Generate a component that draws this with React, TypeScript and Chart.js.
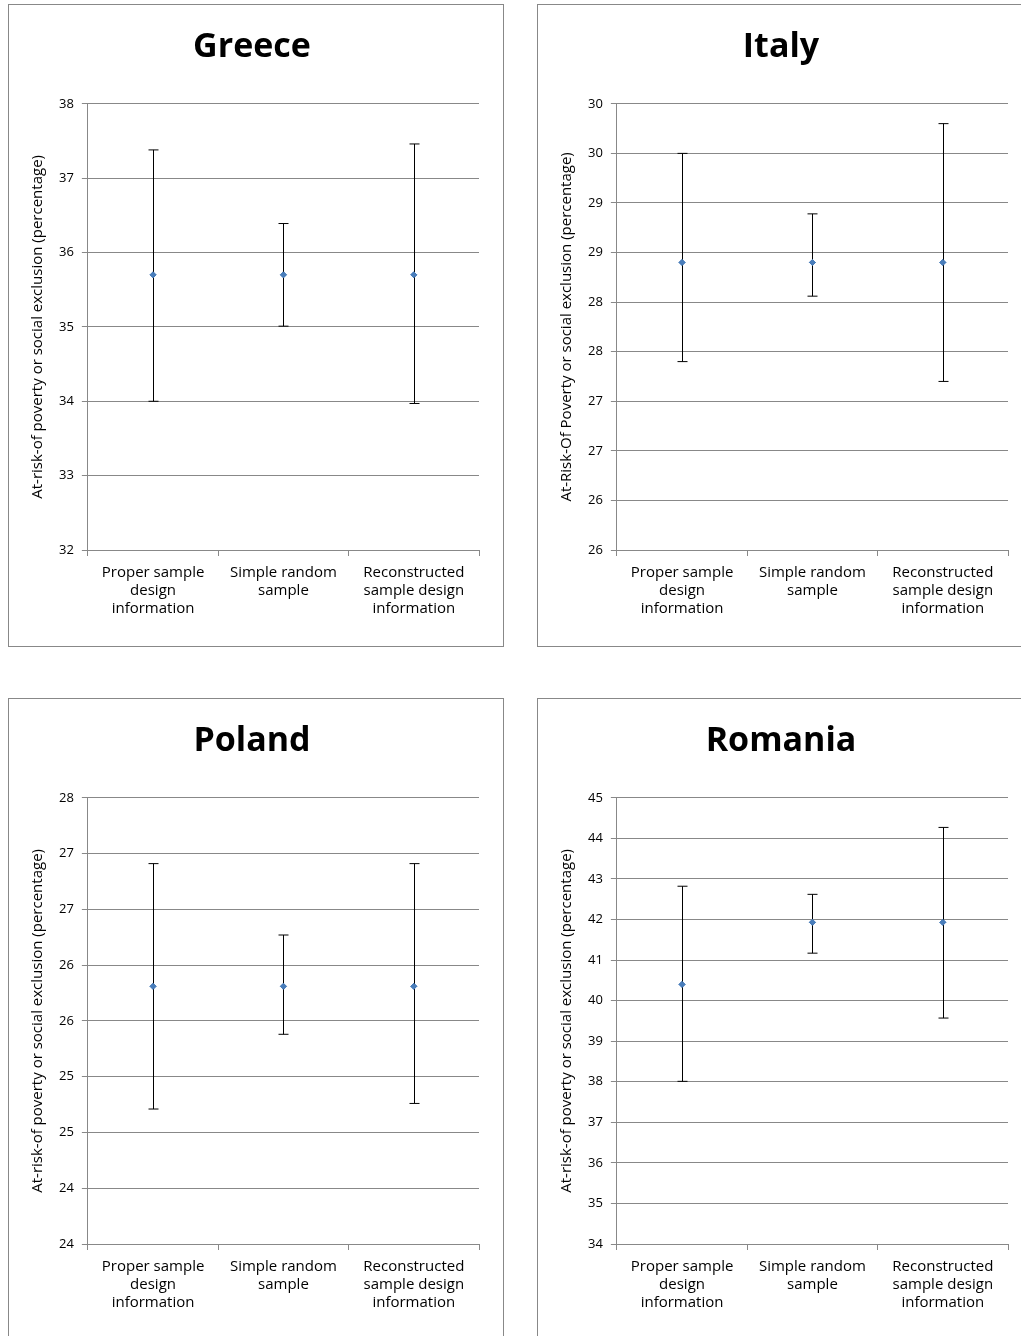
import { useEffect, useRef } from "react"
import { Chart, registerables } from "chart.js"

Chart.register(...registerables)

const categories = [
  ["Proper sample", "design", "information"],
  ["Simple random", "sample"],
  ["Reconstructed", "sample design", "information"],
]

const greeceValues = [35.7, 35.7, 35.7]
const greeceLow = [34.0, 35.01, 33.97]
const greeceHigh = [37.38, 36.39, 37.46]

const italyValues = [28.7, 28.7, 28.7]
const italyLow = [27.7, 28.36, 27.5]
const italyHigh = [29.8, 29.19, 30.1]

const polandValues = [26.11, 26.11, 26.11]
const polandLow = [25.01, 25.68, 25.06]
const polandHigh = [27.21, 26.57, 27.21]

const romaniaValues = [40.4, 41.93, 41.93]
const romaniaLow = [38.01, 41.17, 39.57]
const romaniaHigh = [42.82, 42.62, 44.27]

interface PanelProps {
  title: string
  yLabel: string
  values: number[]
  low: number[]
  high: number[]
  min: number
  max: number
  step: number
  left: number
  top: number
}

const font = "'Open Sans', 'DejaVu Sans', sans-serif"

function Panel({ title, yLabel, values, low, high, min, max, step, left, top }: PanelProps) {
  const ref = useRef<HTMLCanvasElement>(null)

  useEffect(() => {
    if (!ref.current) return
    const errorBars = {
      id: "errorBars",
      afterDatasetsDraw(chart: Chart) {
        const { ctx, scales } = chart
        const x = scales.x
        const y = scales.y
        ctx.save()
        ctx.strokeStyle = "#000"
        ctx.lineWidth = 1
        values.forEach((_, i) => {
          const px = Math.round(x.getPixelForValue(i)) + 0.5
          const y1 = y.getPixelForValue(low[i])
          const y2 = y.getPixelForValue(high[i])
          ctx.beginPath()
          ctx.moveTo(px, y1)
          ctx.lineTo(px, y2)
          ctx.moveTo(px - 5, y1)
          ctx.lineTo(px + 5, y1)
          ctx.moveTo(px - 5, y2)
          ctx.lineTo(px + 5, y2)
          ctx.stroke()
        })
        ctx.restore()
        const meta = chart.getDatasetMeta(0)
        meta.data.forEach((p) => p.draw(ctx))
      },
    }
    const chart = new Chart(ref.current, {
      type: "line",
      data: {
        labels: categories,
        datasets: [
          {
            data: values,
            showLine: false,
            pointStyle: "rectRot",
            pointRadius: 3,
            backgroundColor: "#4a7ebb",
            borderColor: "#4a7ebb",
          },
        ],
      },
      options: {
        animation: false,
        responsive: false,
        layout: { padding: { left: 16, right: 24, top: 8, bottom: 20 } },
        plugins: {
          legend: { display: false },
          tooltip: { enabled: false },
          title: {
            display: true,
            text: title,
            color: "#000",
            font: { family: font, size: 34, weight: "bold" },
            padding: { top: 14, bottom: 36 },
          },
        },
        scales: {
          x: {
            offset: true,
            grid: { offset: true, drawOnChartArea: false, color: "#888", tickLength: 6 },
            border: { color: "#888" },
            ticks: { color: "#000", font: { family: font, size: 15 }, maxRotation: 0, padding: 8 },
          },
          y: {
            min,
            max,
            grid: { color: "#888", tickLength: 6 },
            border: { color: "#888" },
            ticks: {
              stepSize: step,
              color: "#000",
              padding: 8,
              font: { family: font, size: 13 },
              callback: (v) => String(Math.round(Number(v))),
            },
            title: {
              display: true,
              text: yLabel,
              color: "#000",
              font: { family: font, size: 15 },
            },
          },
        },
      },
      plugins: [errorBars],
    })
    return () => chart.destroy()
  }, [])

  return (
    <div
      style={{
        position: "absolute",
        left,
        top,
        width: 494,
        height: 641,
        border: "1px solid #888",
        background: "#fff",
      }}
    >
      <canvas ref={ref} width={494} height={641} />
    </div>
  )
}

export default function App() {
  useEffect(() => {
    document.body.style.margin = "0"
    document.body.style.overflow = "hidden"
  }, [])
  const label = "At-risk-of poverty or social exclusion (percentage)"
  return (
    <div style={{ position: "relative", width: 1021, height: 1336, overflow: "hidden", background: "#fff" }}>
      <Panel title="Greece" yLabel={label} values={greeceValues} low={greeceLow} high={greeceHigh}
        min={32} max={38} step={1} left={8} top={4} />
      <Panel title="Italy" yLabel="At-Risk-Of Poverty or social exclusion (percentage)" values={italyValues}
        low={italyLow} high={italyHigh} min={25.8} max={30.3} step={0.5} left={537} top={4} />
      <Panel title="Poland" yLabel={label} values={polandValues} low={polandLow} high={polandHigh}
        min={23.8} max={27.8} step={0.5} left={8} top={698} />
      <Panel title="Romania" yLabel={label} values={romaniaValues} low={romaniaLow} high={romaniaHigh}
        min={34} max={45} step={1} left={537} top={698} />
    </div>
  )
}
